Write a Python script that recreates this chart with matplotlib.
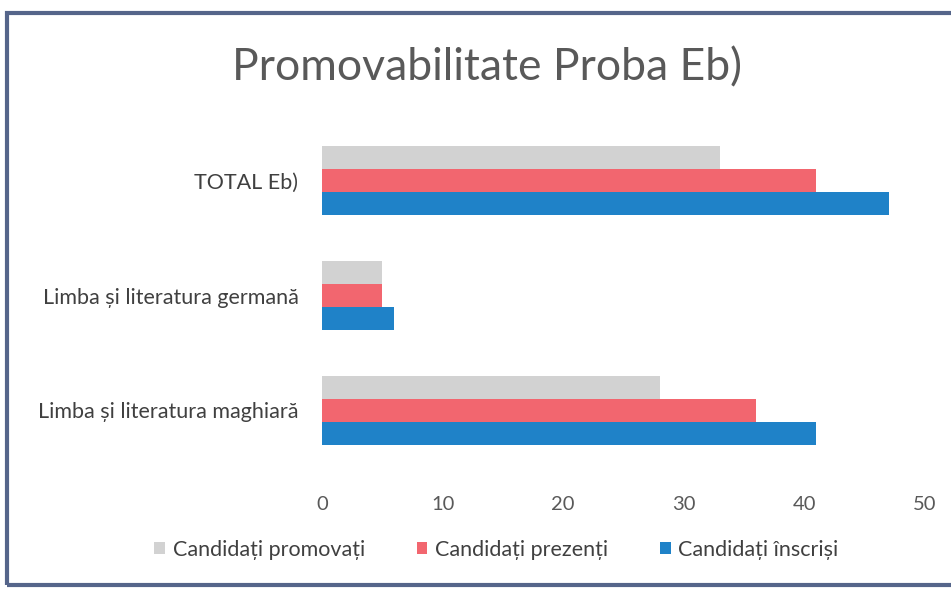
import numpy as np
import matplotlib.pyplot as plt
from matplotlib.patches import Rectangle

categories = ['Limba și literatura maghiară', 'Limba și literatura germană', 'TOTAL Eb)']
inscrisi = [41, 6, 47]
prezenti = [36, 5, 41]
promovati = [28, 5, 33]

series = [
    ('Candidați înscriși', inscrisi, '#1f82c8'),
    ('Candidați prezenți', prezenti, '#f2666f'),
    ('Candidați promovați', promovati, '#d2d2d2'),
]

plt.rcParams['font.family'] = ['Lato', 'DejaVu Sans']

fig = plt.figure(figsize=(9.51, 5.89), dpi=100)
ax = fig.add_axes([322/951, 1-468/589, (925-322)/951, (468-123)/589])

y = np.arange(len(categories))
h = 0.2
for k, (name, vals, col) in enumerate(series):
    ax.barh(y + (k - 1)*h, vals, height=h, color=col, label=name)

ax.set_xlim(0, 50)
ax.set_ylim(-0.5, 2.5)
ax.set_xticks([0, 10, 20, 30, 40, 50])
ax.set_yticks(y)
ax.set_yticklabels(categories, fontsize=15.5, color='#404040')
ax.tick_params(axis='x', labelsize=14.5, labelcolor='#595959', length=0, pad=20)
ax.tick_params(axis='y', length=0, pad=17)
for s in ax.spines.values():
    s.set_visible(False)

fig.text(0.512, 1-68/589, 'Promovabilitate Proba Eb)', ha='center', va='center',
         fontsize=32, color='#595959')

handles, labels = ax.get_legend_handles_labels()
leg = fig.legend(handles[::-1], labels[::-1], loc='center', bbox_to_anchor=(0.522, 1-550/589),
                 ncol=3, frameon=False, fontsize=15.5, handlelength=0.5, handleheight=0.5,
                 handletextpad=0.35, columnspacing=2.4)
for t in leg.get_texts():
    t.set_color('#404040')

# outer frame of the chart area
fig.patches.append(Rectangle((7/951, 1-585/589), 950/951, (585-13)/589,
                             transform=fig.transFigure, fill=False,
                             edgecolor='#55658a', linewidth=3))

fig.savefig('out.png', dpi=100)
